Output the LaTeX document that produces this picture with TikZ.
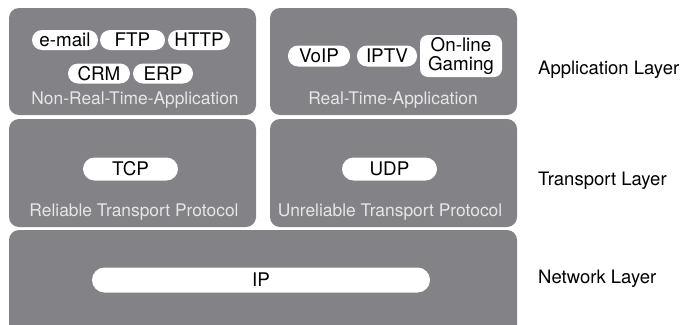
\documentclass[tikz,border=0pt]{standalone}
\usepackage{fontspec}
\setmainfont{TeX Gyre Heros}
\definecolor{boxgray}{RGB}{130,130,135}
\definecolor{labgray}{RGB}{230,230,230}
\begin{document}
\begin{tikzpicture}[x=1pt,y=-1pt,
  font=\fontsize{18.8}{20}\selectfont,
  layerbox/.style={fill=boxgray, draw=none, rounded corners=10pt, inner sep=0pt},
  pill/.style={fill=white, draw=none, rounded corners=10pt, inner sep=0pt, minimum height=20pt, text=black},
  inlabel/.style={text=labgray, inner sep=0pt, font=\fontsize{17.4}{20}\selectfont},
  layerlabel/.style={anchor=west, inner sep=0pt, text=black, font=\fontsize{18.5}{20}\selectfont}]
\clip (0,0) rectangle (682,324);
% boxes
\node[layerbox, minimum width=247pt, minimum height=107pt] (nrt) at (132.5,61.5) {};
\node[layerbox, minimum width=247pt, minimum height=107pt] (rt) at (393.5,61.5) {};
\node[layerbox, minimum width=247pt, minimum height=108pt] (rel) at (132.5,173) {};
\node[layerbox, minimum width=247pt, minimum height=108pt] (unrel) at (393.5,173) {};
\node[layerbox, minimum width=508pt, minimum height=110pt] (net) at (263,285) {};
% application pills
\node[pill, minimum width=66pt] (email) at (65,40) {e-mail};
\node[pill, minimum width=65pt] (ftp) at (132.5,40) {FTP};
\node[pill, minimum width=62pt] (http) at (199,40) {HTTP};
\node[pill, minimum width=62pt] (crm) at (99,73.5) {CRM};
\node[pill, minimum width=60pt] (erp) at (163,73.5) {ERP};
\node[pill, minimum width=62pt, minimum height=21pt] (voip) at (319,56) {VoIP};
\node[pill, minimum width=60pt, minimum height=21pt] (iptv) at (387,56) {IPTV};
\node[pill, minimum width=82pt, minimum height=42pt, rounded corners=8pt, align=center, font=\fontsize{18.8}{19}\selectfont] (game) at (461,56) {On-line\\Gaming};
% transport pills
\node[pill, minimum width=95pt, minimum height=23pt, rounded corners=11.5pt] (tcp) at (130.5,169) {TCP};
\node[pill, minimum width=95pt, minimum height=23pt, rounded corners=11.5pt] (udp) at (389.5,169) {UDP};
% network pill
\node[pill, minimum width=338pt, minimum height=25pt, rounded corners=12.5pt] (ip) at (261,280) {IP};
% inner labels
\node[inlabel] (nrtl) at (135,100) {Non-Real-Time-Application};
\node[inlabel] (rtl) at (393,100) {Real-Time-Application};
\node[inlabel] (rell) at (134,212) {Reliable Transport Protocol};
\node[inlabel] (unrell) at (390,212) {Unreliable Transport Protocol};
% layer labels
\node[layerlabel] (appl) at (538,70) {Application Layer};
\node[layerlabel] (trl) at (538,181) {Transport Layer};
\node[layerlabel] (netl) at (538,279) {Network Layer};
\end{tikzpicture}
\end{document}
